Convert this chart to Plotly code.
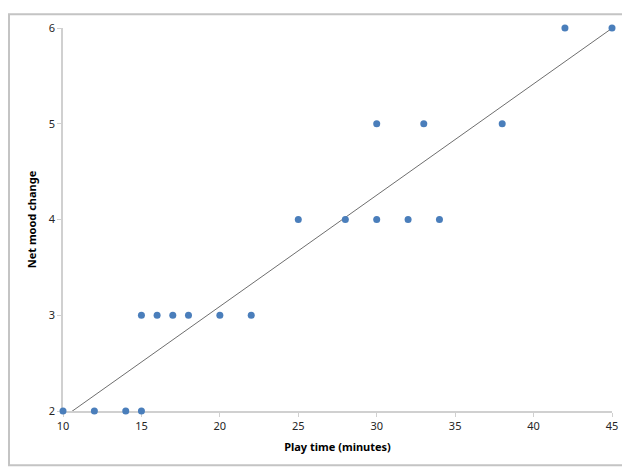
import numpy as np
import plotly.graph_objects as go

play_time = [10, 12, 14, 15, 15, 16, 17, 18, 20, 22, 25, 28, 30, 30, 32, 33, 34, 38, 42, 45]
mood_change = [2, 2, 2, 2, 3, 3, 3, 3, 3, 3, 4, 4, 4, 5, 4, 5, 4, 5, 6, 6]
x_ticks = [10, 15, 20, 25, 30, 35, 40, 45]
y_ticks = [2, 3, 4, 5, 6]

# linear trendline (least squares over the data)
slope, intercept = np.polyfit(play_time, mood_change, 1)
trend_x = [min(play_time), max(play_time)]
trend_y = [slope * v + intercept for v in trend_x]

OFF = 8  # default body margin of the page
W, H = 630 - OFF, 468 - OFF
L, R, T, B = 63 - OFF, 18, 23 - OFF, 57
pw, ph = W - L - R, H - T - B

def px(xp):
    return (xp - (L + OFF)) / pw

def py(yp):
    return ((H + OFF - B) - yp) / ph

fig = go.Figure()
fig.add_trace(go.Scatter(
    x=trend_x, y=trend_y, mode="lines",
    line=dict(color="#6e6e6e", width=1), hoverinfo="skip", showlegend=False,
))
fig.add_trace(go.Scatter(
    x=play_time, y=mood_change, mode="markers",
    marker=dict(color="#4a7ebb", size=7), cliponaxis=False, showlegend=False,
))

axis_font = dict(family="Noto Sans, Open Sans, sans-serif", size=11, color="#262626")
title_font = dict(family="Noto Sans, Open Sans, sans-serif", size=11, color="#000000")

fig.update_layout(
    width=W, height=H,
    margin=dict(l=L, r=R, t=T, b=B),
    paper_bgcolor="white", plot_bgcolor="white",
    xaxis=dict(
        range=[10, 45], tickvals=x_ticks, showgrid=False, zeroline=False,
        showline=True, linecolor="#d0d0d0", linewidth=1.5, layer="below traces",
        ticks="outside", ticklen=4, tickcolor="#d0d0d0", tickfont=axis_font,
        title=dict(text="<b>Play time (minutes)</b>", font=title_font, standoff=11),
    ),
    yaxis=dict(
        range=[2, 6], tickvals=y_ticks, showgrid=False, zeroline=False,
        showline=True, linecolor="#d0d0d0", linewidth=1.5, layer="below traces",
        ticks="outside", ticklen=4, tickcolor="#d0d0d0", tickfont=axis_font,
        title=dict(text="<b>Net mood change</b>", font=title_font, standoff=10),
    ),
    shapes=[
        dict(type="rect", xref="paper", yref="paper",
             x0=px(9), x1=px(640), y0=py(466), y1=py(9),
             line=dict(color="#c4c4c4", width=2), layer="below"),
    ],
)

fig.write_html("out.html")
